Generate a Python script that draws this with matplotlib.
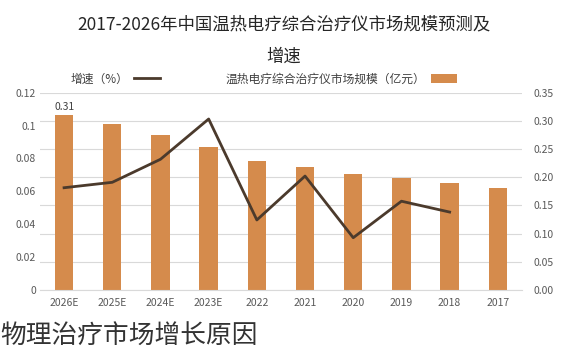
import matplotlib
matplotlib.use("Agg")
import matplotlib.pyplot as plt
from matplotlib.patches import Patch
from matplotlib.lines import Line2D

plt.rcParams['font.family'] = ['Noto Sans CJK SC', 'DejaVu Sans']

categories = ["2026E", "2025E", "2024E", "2023E", "2022", "2021", "2020", "2019", "2018", "2017"]
market_size = [0.310, 0.294, 0.275, 0.254, 0.229, 0.219, 0.206, 0.199, 0.189, 0.181]
growth = [0.0622, 0.0655, 0.0795, 0.104, 0.0426, 0.0693, 0.0318, 0.054, 0.0474, None]
left_ticks = [0, 0.02, 0.04, 0.06, 0.08, 0.1, 0.12]
left_labels = ["0", "0.02", "0.04", "0.06", "0.08", "0.1", "0.12"]
right_ticks = [0.0, 0.05, 0.10, 0.15, 0.20, 0.25, 0.30, 0.35]
right_labels = ["0.00", "0.05", "0.10", "0.15", "0.20", "0.25", "0.30", "0.35"]

bar_color = "#D58B4C"
line_color = "#4B3A2C"
tick_color = "#595959"

fig = plt.figure(figsize=(5.67, 3.56), dpi=100)
ax = fig.add_axes([0.0705, 0.1854, 0.85, 0.5542])
ax2 = ax.twinx()

x = list(range(len(categories)))
ax.bar(x, market_size, width=0.38, color=bar_color, zorder=2)
ax.set_ylim(0, 0.35)
ax.set_xlim(-0.5, len(categories) - 0.5)
ax.yaxis.tick_right()
ax.set_yticks(right_ticks)
ax.set_yticklabels(right_labels)
ax.grid(axis='y', color="#d9d9d9", linewidth=0.8, zorder=0)
ax.set_xticks(x)
ax.set_xticklabels(categories)
ax.tick_params(axis='both', length=0, labelsize=7.5, labelcolor=tick_color)
ax.tick_params(axis='y', pad=8)
ax.tick_params(axis='x', pad=6)
for s in ax.spines.values():
    s.set_visible(False)
ax.spines['bottom'].set_visible(True)
ax.spines['bottom'].set_color("#d9d9d9")
ax.text(x[0], market_size[0] + 0.006, f"{market_size[0]:.2f}", ha='center', va='bottom',
        fontsize=7.5, color="#404040")

ax2.yaxis.tick_left()
gx = [xi for xi, g in zip(x, growth) if g is not None]
gy = [g for g in growth if g is not None]
ax2.plot(gx, gy, color=line_color, linewidth=2, zorder=3)
ax2.set_ylim(0, 0.12)
ax2.set_yticks(left_ticks)
ax2.set_yticklabels(left_labels)
ax2.tick_params(axis='y', length=0, labelsize=7.5, labelcolor=tick_color, pad=3)
for s in ax2.spines.values():
    s.set_visible(False)

fig.text(0.5, 0.93, "2017-2026年中国温热电疗综合治疗仪市场规模预测及", ha='center', va='center',
         fontsize=12.5, color="#262626")
fig.text(0.5, 0.84, "增速", ha='center', va='center', fontsize=12.5, color="#262626")

handles = [Line2D([0], [0], color=line_color, linewidth=2),
           Patch(facecolor=bar_color)]
labels = ["增速（%）", "温热电疗综合治疗仪市场规模（亿元）"]
fig.legend(handles, labels, loc='center', bbox_to_anchor=(0.465, 0.778), ncol=2,
           frameon=False, fontsize=8.5, markerfirst=False, columnspacing=5.5,
           handlelength=2.2, handletextpad=0.5,
           labelcolor="#404040")

fig.text(0.0, 0.055, "物理治疗市场增长原因", ha='left', va='center', fontsize=18.5, color="#333333")

fig.savefig("out.png", dpi=100)
